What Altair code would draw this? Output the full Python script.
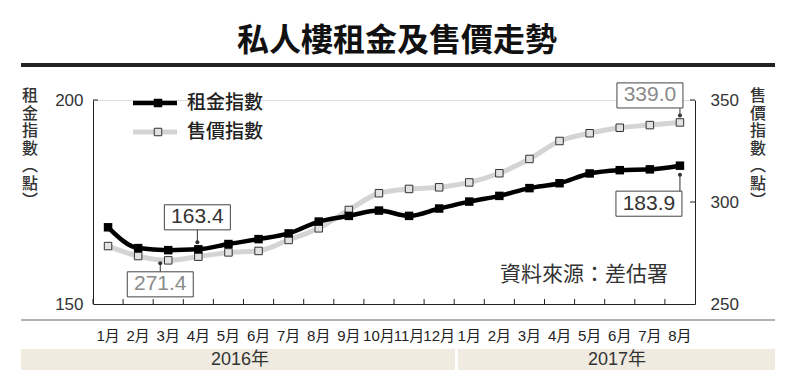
import altair as alt
import pandas as pd

# ---------------- data ----------------
months_2016 = ["1月", "2月", "3月", "4月", "5月", "6月", "7月", "8月", "9月", "10月", "11月", "12月"]
months_2017 = ["1月", "2月", "3月", "4月", "5月", "6月", "7月", "8月"]
keys = [f"2016年{m}" for m in months_2016] + [f"2017年{m}" for m in months_2017]

rent_index = [168.8, 163.7, 163.2, 163.4, 164.7, 165.9, 167.3, 170.2, 171.6, 172.9,
              171.6, 173.4, 175.1, 176.5, 178.4, 179.6, 182.0, 182.8, 183.0, 183.9]
price_index = [278.4, 273.5, 271.4, 273.2, 275.3, 276.0, 281.4, 287.1, 296.1, 304.3,
               306.4, 307.2, 309.6, 314.1, 321.1, 329.9, 333.7, 336.4, 337.7, 339.0]

rent_ticks = [200]
price_ticks = [300, 350]

title_text = "私人樓租金及售價走勢"
rent_name = "租金指數"
price_name = "售價指數"
left_title = ["租", "金", "指", "數", "︵", "點", "︶"]
right_title = ["售", "價", "指", "數", "︵", "點", "︶"]
source_text = "資料來源：差估署"
years = ["2016年", "2017年"]

df = pd.DataFrame({"key": keys, "rent": rent_index, "price": price_index})
one = pd.DataFrame({"a": [0]})

# ---------------- styling ----------------
W, H = 602, 204
CJK = "Noto Sans CJK TC"
NUM = "Liberation Sans, Noto Sans CJK TC"
DARK = "#222222"
PRICE_LINE = "#d4d4d4"
PRICE_FILL = "#e2e2e2"

x_axis = alt.Axis(
    labelExpr="split(datum.label, '年')[1]", ticks=False, tickSize=0, grid=False,
    domainColor=DARK, labelFont=NUM, labelFontSize=15, labelColor=DARK,
    labelPadding=31, labelBaseline="middle", labelAngle=0, labelOverlap=False,
    title=None,
)
x_scale = alt.Scale(type="band", paddingInner=0, paddingOuter=0)


def X(**kw):
    return alt.X("key:N", sort=keys, scale=x_scale, axis=x_axis, title=None, **kw)


rent_scale = alt.Scale(domain=[150, 200], nice=False, zero=False)
rent_axis = alt.Axis(orient="left", values=[150, 200], title=None, ticks=False, tickSize=0,
                     grid=False, labelFont=NUM, labelFontSize=17, labelColor="#333",
                     labelPadding=10, domainColor=DARK)
price_scale = alt.Scale(domain=[250, 350], nice=False, zero=False)
price_axis = alt.Axis(orient="right", values=[250, 300, 350], title=None, ticks=False,
                      tickSize=0, grid=False, labelFont=NUM, labelFontSize=17,
                      labelColor="#333", labelPadding=15, domainColor=DARK)


def YR(field):
    return alt.Y(f"{field}:Q", scale=rent_scale, axis=rent_axis, title=None)


def YP(field):
    return alt.Y(f"{field}:Q", scale=price_scale, axis=price_axis, title=None)


BOX = "M-1,-0.38H1V0.38H-1Z"


def annotation(field, ycol, key, text_color, bdx, bdy, lx, ly1, ly2, dot_y):
    base = alt.Chart(df).transform_filter(alt.datum.key == key)
    leader = base.mark_rule(color="#333", strokeWidth=1, xOffset=lx, yOffset=ly1,
                            y2Offset=ly2).encode(x=X(), y=ycol(field), y2=alt.Y2(field))
    dot = base.mark_circle(size=16, color="#333", opacity=1, xOffset=lx,
                           yOffset=dot_y).encode(x=X(), y=ycol(field))
    box = base.mark_point(shape=BOX, size=66 * 66, filled=True, color="white",
                          stroke="#444", strokeWidth=1, opacity=1, xOffset=bdx,
                          yOffset=bdy).encode(x=X(), y=ycol(field))
    txt = base.mark_text(font="Liberation Sans", fontSize=21, color=text_color, dx=bdx,
                         dy=bdy, baseline="middle", align="center").encode(
        x=X(), y=ycol(field), text=alt.Text(f"{field}:Q", format=".1f"))
    return [leader, dot, box, txt]


# ---------------- price group (right axis) ----------------
price_line = alt.Chart(df).mark_line(color=PRICE_LINE, strokeWidth=5,
                                     interpolate="monotone").encode(x=X(), y=YP("price"))
price_pts = alt.Chart(df).mark_point(shape="square", size=56, filled=True, color=PRICE_FILL,
                                     stroke="#333", strokeWidth=1, opacity=1).encode(
    x=X(), y=YP("price"))
price_tick_df = pd.DataFrame({"t": price_ticks})
price_tick_rules = alt.Chart(price_tick_df).mark_rule(color=DARK, strokeWidth=1).encode(
    y=YP("t"), x=alt.value(W - 5), x2=alt.value(W))

price_group = alt.layer(
    price_tick_rules, price_line, price_pts,
    *annotation("price", YP, "2016年3月", "#8a8a8a", -8, 24, -8, 3, 12, 3),
    *annotation("price", YP, "2017年8月", "#8a8a8a", -30, -27, 0, -7, -14, -7),
)

# ---------------- rent group (left axis) + decorations ----------------
rent_line = alt.Chart(df).mark_line(color="black", strokeWidth=4.5,
                                    interpolate="monotone").encode(x=X(), y=YR("rent"))
rent_pts = alt.Chart(df).mark_point(shape="square", size=72, filled=True, color="black",
                                    opacity=1).encode(x=X(), y=YR("rent"))
rent_tick_df = pd.DataFrame({"t": rent_ticks})
rent_tick_rules = alt.Chart(rent_tick_df).mark_rule(color=DARK, strokeWidth=1).encode(
    y=YR("t"), x=alt.value(0), x2=alt.value(5))
band_ticks = alt.Chart(df).mark_rule(color=DARK, strokeWidth=1).encode(
    x=X(bandPosition=0), y=alt.value(H - 5), y2=alt.value(H))

deco = alt.Chart(one)
title = deco.mark_text(text=title_text, font=CJK, fontSize=32, fontWeight="bold",
                       color="#111", align="center", baseline="middle").encode(
    x=alt.value(304), y=alt.value(-59))
top_rule = deco.mark_rule(color=DARK, strokeWidth=4).encode(
    x=alt.value(-72), x2=alt.value(682), y=alt.value(-35))
sep_rule = deco.mark_rule(color="#666", strokeWidth=1).encode(
    x=alt.value(-72), x2=alt.value(682), y=alt.value(220))
band16 = deco.mark_rect(color="#efebe1").encode(
    x=alt.value(-72), x2=alt.value(362), y=alt.value(249), y2=alt.value(270))
band17 = deco.mark_rect(color="#efebe1").encode(
    x=alt.value(365), x2=alt.value(682), y=alt.value(249), y2=alt.value(270))
year16 = deco.mark_text(text=years[0], font=NUM, fontSize=18, color="#333",
                        align="center", baseline="middle").encode(
    x=alt.value(147), y=alt.value(260))
year17 = deco.mark_text(text=years[1], font=NUM, fontSize=18, color="#333",
                        align="center", baseline="middle").encode(
    x=alt.value(524), y=alt.value(260))
ltitle = deco.mark_text(text=left_title, font=CJK, fontSize=16, lineHeight=17.5,
                        fontWeight=500, color="#333", align="center",
                        baseline="top").encode(x=alt.value(-63), y=alt.value(-12))
rtitle = deco.mark_text(text=right_title, font=CJK, fontSize=16, lineHeight=17.5,
                        fontWeight=500, color="#333", align="center",
                        baseline="top").encode(x=alt.value(665), y=alt.value(-12))
source = deco.mark_text(text=source_text, font=CJK, fontSize=21, color="#333",
                        align="right", baseline="middle").encode(
    x=alt.value(575), y=alt.value(175))
# legend
leg_rent_line = deco.mark_rule(color="black", strokeWidth=4.5).encode(
    x=alt.value(40), x2=alt.value(84), y=alt.value(3))
leg_rent_pt = deco.mark_point(shape="square", size=72, filled=True, color="black",
                              opacity=1).encode(x=alt.value(65), y=alt.value(3))
leg_rent_txt = deco.mark_text(text=rent_name, font=CJK, fontSize=19, fontWeight=500,
                              color=DARK, align="left", baseline="middle").encode(
    x=alt.value(94), y=alt.value(3))
leg_price_line = deco.mark_rule(color=PRICE_LINE, strokeWidth=5).encode(
    x=alt.value(40), x2=alt.value(84), y=alt.value(32))
leg_price_pt = deco.mark_point(shape="square", size=56, filled=True, color=PRICE_FILL,
                               stroke="#333", strokeWidth=1, opacity=1).encode(
    x=alt.value(65), y=alt.value(32))
leg_price_txt = deco.mark_text(text=price_name, font=CJK, fontSize=19, fontWeight=500,
                               color=DARK, align="left", baseline="middle").encode(
    x=alt.value(94), y=alt.value(32))

rent_group = alt.layer(
    top_rule, sep_rule, band16, band17, year16, year17, title, ltitle, rtitle, source,
    leg_rent_line, leg_rent_pt, leg_rent_txt, leg_price_line, leg_price_pt, leg_price_txt,
    band_ticks, rent_tick_rules, rent_line, rent_pts,
    *annotation("rent", YR, "2016年4月", "#333", -1, -32, -1, -7, -20, -7),
    *annotation("rent", YR, "2017年8月", "#333", -31, 38, 0, 9, 26, 9),
)

chart = alt.layer(price_group, rent_group).resolve_scale(y="independent").properties(
    width=W, height=H,
    autosize=alt.AutoSizeParams(type="none"),
    padding={"left": 85, "top": 92, "right": 97, "bottom": 73},
).configure_view(stroke=None).configure(background="white")

chart.save("out.html", embed_options={"renderer": "svg", "actions": False})
